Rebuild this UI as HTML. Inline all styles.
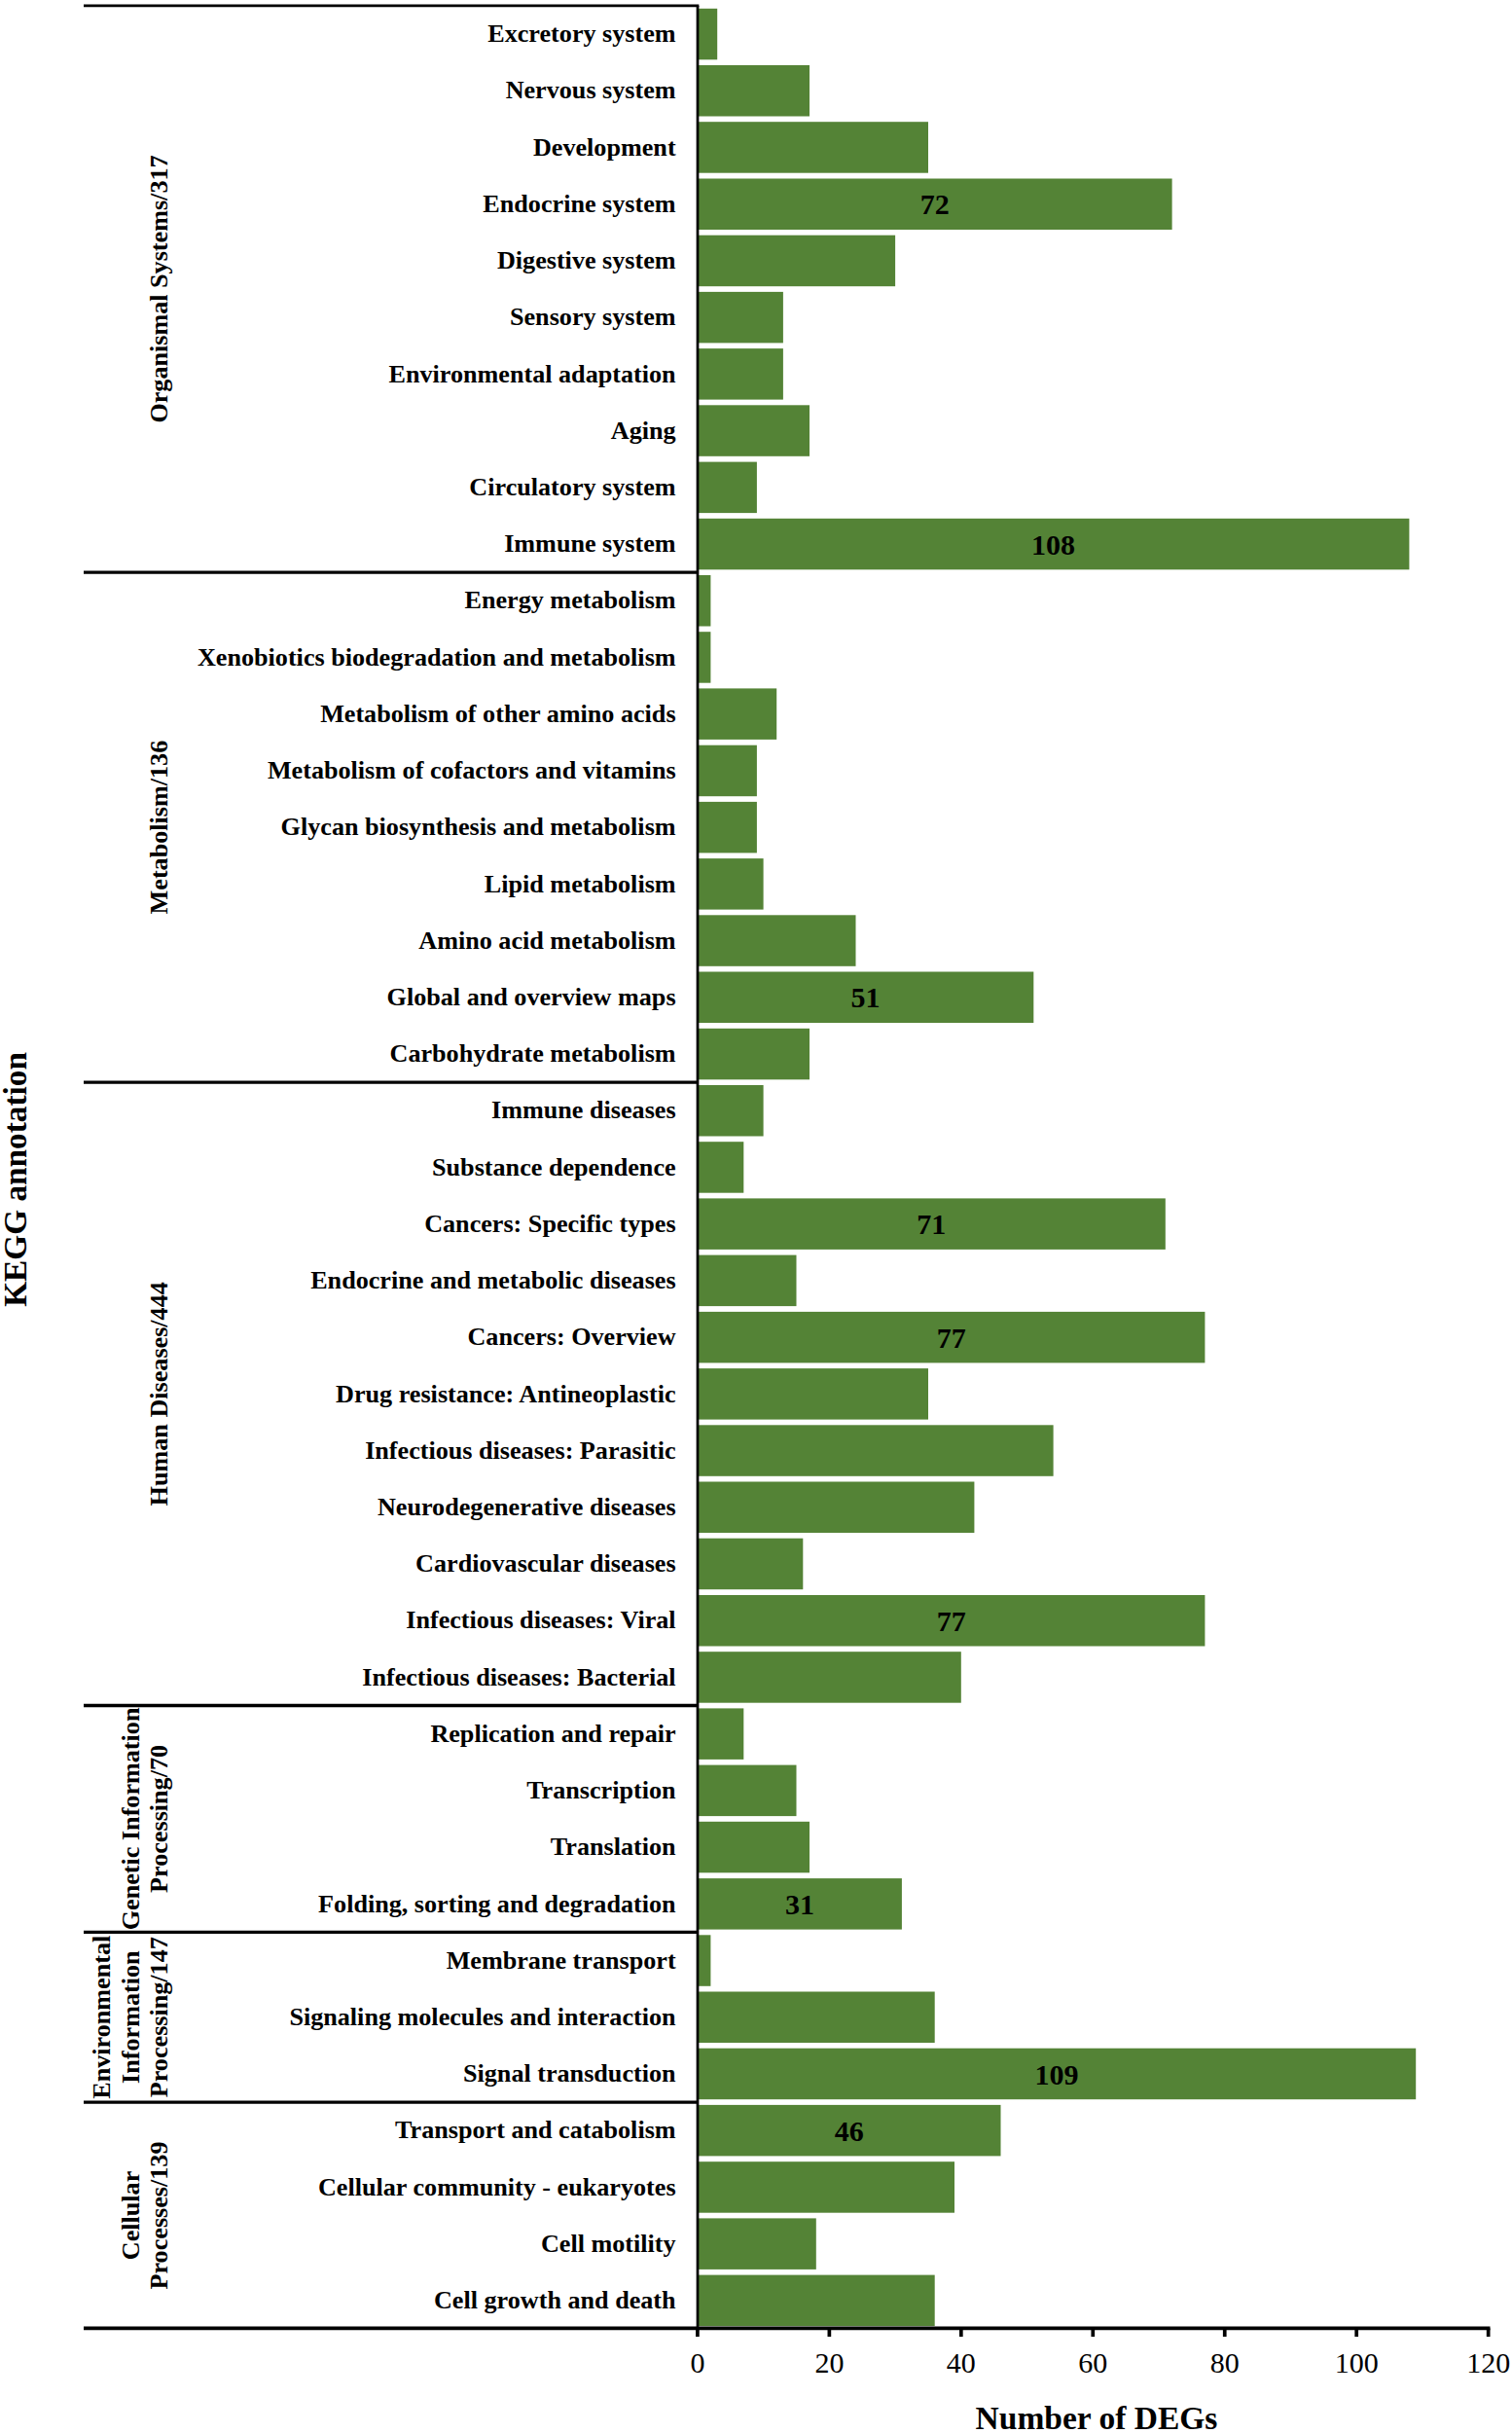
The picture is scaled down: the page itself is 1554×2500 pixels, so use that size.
<!DOCTYPE html>
<html lang="en">
<head>
<meta charset="utf-8">
<title>KEGG annotation</title>
<style>
html,body{margin:0;padding:0;background:#fff}
body{width:1554px;height:2500px;overflow:hidden}
svg{display:block}
text{font-family:"Liberation Serif","Times New Roman",serif;fill:#000}
.c{font-weight:bold;font-size:26.15px;text-anchor:end}
.g{font-weight:bold;font-size:26.15px;text-anchor:middle}
.v{font-weight:bold;font-size:30px;text-anchor:middle}
.t{font-size:30px;text-anchor:middle}
.a{font-weight:bold;font-size:33.5px;text-anchor:middle}
.b{fill:#548336}
.l{stroke:#000;stroke-width:3.3;fill:none}
</style>
</head>
<body>
<svg width="1554" height="2500" viewBox="0 0 1554 2500">
<rect x="0" y="0" width="1554" height="2500" fill="#ffffff"/>
<g><rect class="b" x="716.9" y="8.8" width="20.3" height="52.5"/>
<rect class="b" x="716.9" y="67.0" width="115.1" height="52.5"/>
<rect class="b" x="716.9" y="125.2" width="237.1" height="52.5"/>
<rect class="b" x="716.9" y="183.5" width="487.7" height="52.5"/>
<rect class="b" x="716.9" y="241.7" width="203.2" height="52.5"/>
<rect class="b" x="716.9" y="299.9" width="88.0" height="52.5"/>
<rect class="b" x="716.9" y="358.1" width="88.0" height="52.5"/>
<rect class="b" x="716.9" y="416.3" width="115.1" height="52.5"/>
<rect class="b" x="716.9" y="474.6" width="61.0" height="52.5"/>
<rect class="b" x="716.9" y="532.8" width="731.5" height="52.5"/>
<rect class="b" x="716.9" y="591.0" width="13.5" height="52.5"/>
<rect class="b" x="716.9" y="649.2" width="13.5" height="52.5"/>
<rect class="b" x="716.9" y="707.4" width="81.3" height="52.5"/>
<rect class="b" x="716.9" y="765.7" width="61.0" height="52.5"/>
<rect class="b" x="716.9" y="823.9" width="61.0" height="52.5"/>
<rect class="b" x="716.9" y="882.1" width="67.7" height="52.5"/>
<rect class="b" x="716.9" y="940.3" width="162.6" height="52.5"/>
<rect class="b" x="716.9" y="998.5" width="345.4" height="52.5"/>
<rect class="b" x="716.9" y="1056.8" width="115.1" height="52.5"/>
<rect class="b" x="716.9" y="1115.0" width="67.7" height="52.5"/>
<rect class="b" x="716.9" y="1173.2" width="47.4" height="52.5"/>
<rect class="b" x="716.9" y="1231.4" width="480.9" height="52.5"/>
<rect class="b" x="716.9" y="1289.6" width="101.6" height="52.5"/>
<rect class="b" x="716.9" y="1347.9" width="521.5" height="52.5"/>
<rect class="b" x="716.9" y="1406.1" width="237.1" height="52.5"/>
<rect class="b" x="716.9" y="1464.3" width="365.7" height="52.5"/>
<rect class="b" x="716.9" y="1522.5" width="284.5" height="52.5"/>
<rect class="b" x="716.9" y="1580.7" width="108.4" height="52.5"/>
<rect class="b" x="716.9" y="1639.0" width="521.5" height="52.5"/>
<rect class="b" x="716.9" y="1697.2" width="270.9" height="52.5"/>
<rect class="b" x="716.9" y="1755.4" width="47.4" height="52.5"/>
<rect class="b" x="716.9" y="1813.6" width="101.6" height="52.5"/>
<rect class="b" x="716.9" y="1871.8" width="115.1" height="52.5"/>
<rect class="b" x="716.9" y="1930.1" width="210.0" height="52.5"/>
<rect class="b" x="716.9" y="1988.3" width="13.5" height="52.5"/>
<rect class="b" x="716.9" y="2046.5" width="243.8" height="52.5"/>
<rect class="b" x="716.9" y="2104.7" width="738.3" height="52.5"/>
<rect class="b" x="716.9" y="2162.9" width="311.6" height="52.5"/>
<rect class="b" x="716.9" y="2221.2" width="264.1" height="52.5"/>
<rect class="b" x="716.9" y="2279.4" width="121.9" height="52.5"/>
<rect class="b" x="716.9" y="2337.6" width="243.8" height="52.5"/></g>
<g class="l">
<line x1="86.0" y1="5.9" x2="718.35" y2="5.9" stroke-width="2.8"/>
<line x1="86.0" y1="588.10" x2="717.0" y2="588.10"/>
<line x1="86.0" y1="1112.08" x2="717.0" y2="1112.08"/>
<line x1="86.0" y1="1752.50" x2="717.0" y2="1752.50"/>
<line x1="86.0" y1="1985.38" x2="717.0" y2="1985.38"/>
<line x1="86.0" y1="2160.04" x2="717.0" y2="2160.04"/>
<line x1="717.0" y1="5.9" x2="717.0" y2="2392.4" stroke-width="2.7"/>
<line x1="86.0" y1="2392.4" x2="1531.51" y2="2392.4" stroke-width="3.6"/>
<line x1="716.90" y1="2392.4" x2="716.90" y2="2401.1" stroke-width="3.7"/>
<line x1="852.36" y1="2392.4" x2="852.36" y2="2401.1" stroke-width="3.7"/>
<line x1="987.82" y1="2392.4" x2="987.82" y2="2401.1" stroke-width="3.7"/>
<line x1="1123.28" y1="2392.4" x2="1123.28" y2="2401.1" stroke-width="3.7"/>
<line x1="1258.74" y1="2392.4" x2="1258.74" y2="2401.1" stroke-width="3.7"/>
<line x1="1394.20" y1="2392.4" x2="1394.20" y2="2401.1" stroke-width="3.7"/>
<line x1="1529.66" y1="2392.4" x2="1529.66" y2="2401.1" stroke-width="3.7"/>
</g>
<g><text class="c" x="694.6" y="43.2">Excretory system</text>
<text class="c" x="694.6" y="101.4">Nervous system</text>
<text class="c" x="694.6" y="159.6">Development</text>
<text class="c" x="694.6" y="217.9">Endocrine system</text>
<text class="c" x="694.6" y="276.1">Digestive system</text>
<text class="c" x="694.6" y="334.3">Sensory system</text>
<text class="c" x="694.6" y="392.5">Environmental adaptation</text>
<text class="c" x="694.6" y="450.7">Aging</text>
<text class="c" x="694.6" y="509.0">Circulatory system</text>
<text class="c" x="694.6" y="567.2">Immune system</text>
<text class="c" x="694.6" y="625.4">Energy metabolism</text>
<text class="c" x="694.6" y="683.6">Xenobiotics biodegradation and metabolism</text>
<text class="c" x="694.6" y="741.9">Metabolism of other amino acids</text>
<text class="c" x="694.6" y="800.1">Metabolism of cofactors and vitamins</text>
<text class="c" x="694.6" y="858.3">Glycan biosynthesis and metabolism</text>
<text class="c" x="694.6" y="916.5">Lipid metabolism</text>
<text class="c" x="694.6" y="974.7">Amino acid metabolism</text>
<text class="c" x="694.6" y="1033.0">Global and overview maps</text>
<text class="c" x="694.6" y="1091.2">Carbohydrate metabolism</text>
<text class="c" x="694.6" y="1149.4">Immune diseases</text>
<text class="c" x="694.6" y="1207.6">Substance dependence</text>
<text class="c" x="694.6" y="1265.8">Cancers: Specific types</text>
<text class="c" x="694.6" y="1324.0">Endocrine and metabolic diseases</text>
<text class="c" x="694.6" y="1382.3">Cancers: Overview</text>
<text class="c" x="694.6" y="1440.5">Drug resistance: Antineoplastic</text>
<text class="c" x="694.6" y="1498.7">Infectious diseases: Parasitic</text>
<text class="c" x="694.6" y="1556.9">Neurodegenerative diseases</text>
<text class="c" x="694.6" y="1615.2">Cardiovascular diseases</text>
<text class="c" x="694.6" y="1673.4">Infectious diseases: Viral</text>
<text class="c" x="694.6" y="1731.6">Infectious diseases: Bacterial</text>
<text class="c" x="694.6" y="1789.8">Replication and repair</text>
<text class="c" x="694.6" y="1848.0">Transcription</text>
<text class="c" x="694.6" y="1906.2">Translation</text>
<text class="c" x="694.6" y="1964.5">Folding, sorting and degradation</text>
<text class="c" x="694.6" y="2022.7">Membrane transport</text>
<text class="c" x="694.6" y="2080.9">Signaling molecules and interaction</text>
<text class="c" x="694.6" y="2139.1">Signal transduction</text>
<text class="c" x="694.6" y="2197.3">Transport and catabolism</text>
<text class="c" x="694.6" y="2255.6">Cellular community - eukaryotes</text>
<text class="c" x="694.6" y="2313.8">Cell motility</text>
<text class="c" x="694.6" y="2372.0">Cell growth and death</text></g>
<g><text class="v" x="960.7" y="220.3">72</text>
<text class="v" x="1082.6" y="569.6">108</text>
<text class="v" x="889.6" y="1035.3">51</text>
<text class="v" x="957.3" y="1268.2">71</text>
<text class="v" x="977.7" y="1384.7">77</text>
<text class="v" x="977.7" y="1675.8">77</text>
<text class="v" x="821.9" y="1966.9">31</text>
<text class="v" x="1086.0" y="2141.5">109</text>
<text class="v" x="872.7" y="2199.8">46</text></g>
<g><text class="g" transform="translate(172.0 297.0) rotate(-90)">Organismal Systems/317</text>
<text class="g" transform="translate(172.0 850.1) rotate(-90)">Metabolism/136</text>
<text class="g" transform="translate(172.0 1432.3) rotate(-90)">Human Diseases/444</text>
<text class="g" transform="translate(142.6 1868.9) rotate(-90)">Genetic Information</text>
<text class="g" transform="translate(172.0 1868.9) rotate(-90)">Processing/70</text>
<text class="g" transform="translate(113.1 2072.7) rotate(-90)">Environmental</text>
<text class="g" transform="translate(142.6 2072.7) rotate(-90)">Information</text>
<text class="g" transform="translate(172.0 2072.7) rotate(-90)">Processing/147</text>
<text class="g" transform="translate(142.6 2276.5) rotate(-90)">Cellular</text>
<text class="g" transform="translate(172.0 2276.5) rotate(-90)">Processes/139</text></g>
<g>
<text class="t" x="716.9" y="2438.0">0</text>
<text class="t" x="852.4" y="2438.0">20</text>
<text class="t" x="987.8" y="2438.0">40</text>
<text class="t" x="1123.3" y="2438.0">60</text>
<text class="t" x="1258.7" y="2438.0">80</text>
<text class="t" x="1394.2" y="2438.0">100</text>
<text class="t" x="1529.7" y="2438.0">120</text>
</g>
<text class="a" x="1127" y="2495.6">Number of DEGs</text>
<text class="a" transform="translate(27.1 1211.9) rotate(-90)" style="font-size:33.3px">KEGG annotation</text>
</svg>
</body>
</html>
